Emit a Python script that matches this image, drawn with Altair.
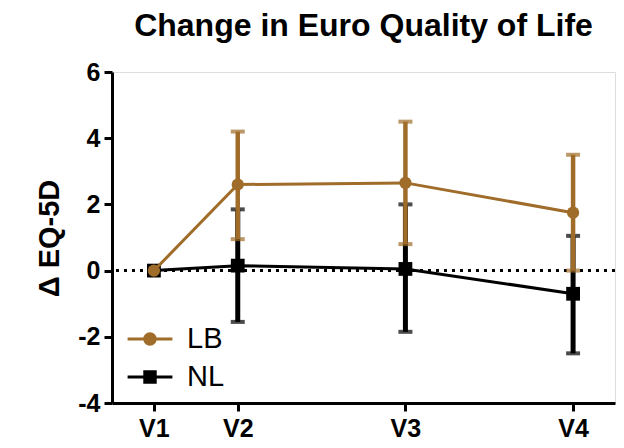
import altair as alt
import pandas as pd

# ---- data ----
visits = ["V1", "V2", "V3", "V4"]
visit_pos = [0, 1, 3, 5]
groups = ["LB", "NL"]
lb_mean = [0.0, 2.6, 2.65, 1.75]
lb_upper = [0.0, 4.2, 4.5, 3.5]
lb_lower = [0.0, 0.95, 0.8, 0.0]
nl_mean = [0.0, 0.15, 0.05, -0.7]
nl_upper = [0.0, 1.85, 2.0, 1.05]
nl_lower = [0.0, -1.55, -1.85, -2.5]
y_ticks = [-4, -2, 0, 2, 4, 6]

BROWN = "#A06C2A"
colors = {"LB": BROWN, "NL": "black"}
shapes = {"LB": "circle", "NL": "square"}

rows = []
for g, m, hi, lo in [("LB", lb_mean, lb_upper, lb_lower), ("NL", nl_mean, nl_upper, nl_lower)]:
    for v, x, mm, h, l in zip(visits, visit_pos, m, hi, lo):
        rows.append({"group": g, "visit": v, "x": x, "mean": mm, "hi": h, "lo": l})
df = pd.DataFrame(rows)

FONT = "Liberation Sans"

label_expr = " : ".join(
    f"datum.value == {p} ? '{v}'" for p, v in zip(visit_pos, visits)
) + " : ''"

x_enc = alt.X(
    "x:Q",
    scale=alt.Scale(domain=[-0.5, 5.5], nice=False, zero=False),
    axis=alt.Axis(
        values=visit_pos, labelExpr=label_expr, title=None, grid=False,
        labelFont=FONT, labelFontSize=25, labelFontWeight="bold", labelColor="black",
        tickSize=8, tickWidth=3, tickColor="black", domainWidth=3, domainColor="black",
        labelPadding=5,
    ),
)
y_scale = alt.Scale(domain=[-4, 6], nice=False, zero=False)
y_axis = alt.Axis(
    values=y_ticks, title="Δ EQ-5D", grid=False,
    labelExpr="replace(datum.label, '\u2212', '-')",
    labelFont=FONT, labelFontSize=25, labelFontWeight="bold", labelColor="black",
    tickSize=8, tickWidth=3, tickColor="black", domainWidth=3, domainColor="black",
    labelPadding=4,
    titleFont=FONT, titleFontSize=29, titleFontWeight="bold", titleColor="black",
    titleX=-54, titleY=166, titleBaseline="alphabetic", titleAlign="center",
)

base = alt.Chart(df)

zero_line = base.mark_rule(color="black", strokeWidth=3, strokeDash=[3, 5]).encode(
    y=alt.datum(0, scale=y_scale, axis=y_axis)
)

layers = [zero_line]
for g in ["NL", "LB"]:
    c = colors[g]
    sub = base.transform_filter(alt.datum.group == g)
    bars = sub.transform_filter("datum.hi != datum.lo")
    bar_w = 5 if g == "NL" else 4.5
    layers.append(
        bars.mark_rule(color=c, strokeWidth=bar_w).encode(
            x=x_enc, y=alt.Y("lo:Q", scale=y_scale, axis=y_axis), y2="hi:Q"
        )
    )
    layers.append(
        sub.mark_line(color=c, strokeWidth=3).encode(
            x=x_enc, y=alt.Y("mean:Q", scale=y_scale, axis=y_axis)
        )
    )
    layers.append(
        sub.mark_point(
            color=c, filled=True, opacity=1, shape=shapes[g],
            size=150 if g == "LB" else 190,
        ).encode(x=x_enc, y=alt.Y("mean:Q", scale=y_scale, axis=y_axis))
    )
    for col in ["hi", "lo"]:
        layers.append(
            bars.mark_tick(color=c, orient="horizontal", size=14, thickness=4).encode(
                x=x_enc, y=alt.Y(f"{col}:Q", scale=y_scale, axis=y_axis)
            )
        )

lb_path = ("M-1.4,-0.1H1.4V0.1H-1.4Z "
           "M-0.42,0A0.42,0.42,0,1,1,0.42,0A0.42,0.42,0,1,1,-0.42,0Z")
nl_path = "M-1.4,-0.1H1.4V0.1H-1.4Z M-0.42,-0.42H0.42V0.42H-0.42Z"

leg = alt.Legend(
    title=None, orient="none", legendX=22, legendY=251, padding=0,
    labelFont=FONT, labelFontSize=29, labelColor="black",
    symbolSize=1024, symbolStrokeWidth=0, symbolOpacity=1,
    rowPadding=7, labelOffset=21,
)
legend_layer = base.transform_filter("false").mark_point(filled=True, opacity=1).encode(
    x=x_enc,
    y=alt.Y("mean:Q", scale=y_scale, axis=y_axis),
    color=alt.Color("group:N", scale=alt.Scale(domain=groups, range=[BROWN, "black"]), legend=leg),
    shape=alt.Shape("group:N", scale=alt.Scale(domain=groups, range=[lb_path, nl_path]), legend=leg),
)
layers.append(legend_layer)

chart = alt.layer(*layers).properties(
    width=503,
    height=331,
    autosize=alt.AutoSizeParams(type="none"),
    padding={"left": 104, "top": 64, "right": 1, "bottom": 37},
    title=alt.TitleParams(
        "Change in Euro Quality of Life", font=FONT, fontSize=32, fontWeight="bold",
        color="black", anchor="middle", frame="group", offset=17,
    ),
).configure_view(stroke=None).configure(background="white")

chart.save("out.html", embed_options={"renderer": "svg", "actions": False})
